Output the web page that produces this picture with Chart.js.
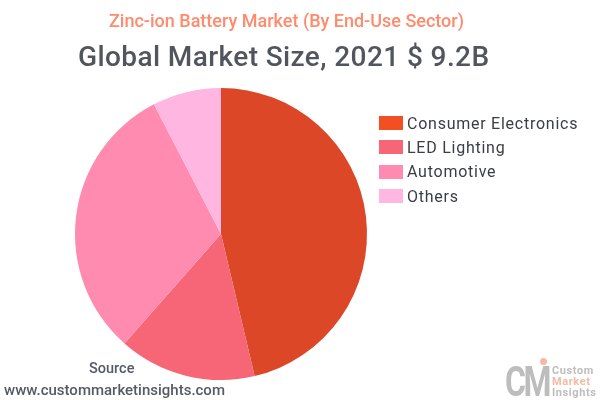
<!DOCTYPE html>
<html>
<head>
<meta charset="utf-8">
<script src="https://cdn.jsdelivr.net/npm/chart.js@4"></script>
<style>
  html, body { margin: 0; padding: 0; background: #fff; }
  #wrap { position: relative; width: 600px; height: 400px; overflow: hidden; font-family: Roboto, sans-serif; }
  #wrap canvas { position: absolute; left: 0; top: 0; }
  .txt { position: absolute; white-space: nowrap; }
  #subtitle { left: 109px; top: 10px; font-size: 18px; line-height: 22px; font-weight: 500; color: #ff8a6c; }
  #title { left: 78px; top: 40px; font-size: 28px; line-height: 34px; font-weight: 500; letter-spacing: 0.4px; color: #50555e; }
  #source { left: 89px; top: 360px; font-size: 14.5px; line-height: 18px; font-weight: 500; color: #555a63; }
  #url { left: 4px; top: 381px; font-size: 15px; line-height: 18px; font-weight: 500; color: #555a63; }
  #legend { position: absolute; left: 379px; top: 111px; }
  .item { height: 24.3px; display: flex; align-items: center; font-size: 16px; letter-spacing: 0.75px; color: #3a3d42; }
  .box { width: 24px; height: 14px; margin-right: 4px; }
  #logoCM { left: 505px; top: 361px; font-size: 42px; line-height: 42px; font-weight: 700; letter-spacing: -3px; color: #bdbdbd; transform: scaleX(0.76); transform-origin: left top; }
  #logoDot { position: absolute; left: 540px; top: 358px; width: 7px; height: 7px; border-radius: 50%; background: #f6b9a6; }
  .logo { left: 552px; font-size: 11px; line-height: 11px; font-weight: 700; letter-spacing: 0.6px; color: #bdbdbd; }
</style>
</head>
<body>
<div id="wrap">
  <canvas id="pieChart" width="600" height="400"></canvas>
  <div class="txt" id="subtitle">Zinc-ion Battery Market (By End-Use Sector)</div>
  <div class="txt" id="title">Global Market Size, 2021 $ 9.2B</div>
  <div id="legend"></div>
  <div class="txt" id="source">Source</div>
  <div class="txt" id="url">www.custommarketinsights.com</div>
  <div class="txt" id="logoCM">CM</div>
  <div id="logoDot"></div>
  <div class="txt logo" style="top:365px">Custom</div>
  <div class="txt logo" style="top:376px;color:#f6b9a6">Market</div>
  <div class="txt logo" style="top:387px">Insights</div>
</div>
<script>
const categories = ["Consumer Electronics", "LED Lighting", "Automotive", "Others"];
const shares = [46.3, 15.2, 30.9, 7.6];
const sliceColors = ["#dc4827", "#f76676", "#ff8bb0", "#ffb6e0"];
const legendColors = ["#f25022", "#f76676", "#ff8bb0", "#ffb6e0"];

Chart.defaults.animation = false;

new Chart(document.getElementById("pieChart"), {
  type: "pie",
  data: {
    labels: categories,
    datasets: [{
      data: shares,
      backgroundColor: sliceColors,
      borderWidth: 0
    }]
  },
  options: {
    responsive: false,
    layout: { padding: { left: 75, right: 233, top: 88, bottom: 20 } },
    plugins: {
      legend: { display: false },
      tooltip: { enabled: false }
    }
  }
});

// legend sits apart from the pie, so build it by hand
const legendEl = document.getElementById("legend");
categories.forEach(function (name, i) {
  const row = document.createElement("div");
  row.className = "item";
  const box = document.createElement("span");
  box.className = "box";
  box.style.background = legendColors[i];
  row.appendChild(box);
  row.appendChild(document.createTextNode(name));
  legendEl.appendChild(row);
});
</script>
</body>
</html>
